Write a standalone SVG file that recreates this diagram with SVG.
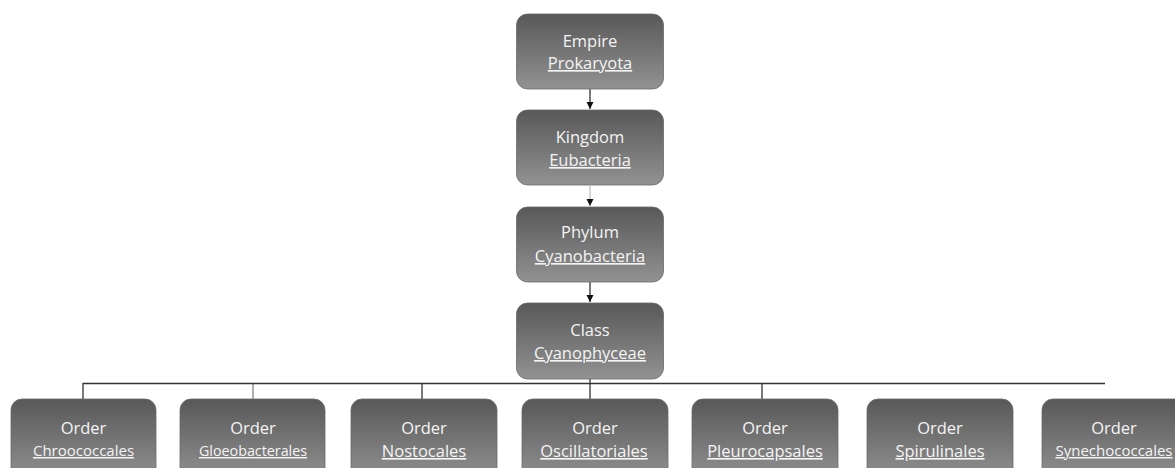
<svg xmlns="http://www.w3.org/2000/svg" width="1175" height="468" viewBox="0 0 1175 468">
<style>
.box{fill:url(#g);stroke:#6a6a6a;stroke-width:0.8}
.t{font-family:"Open Sans","Liberation Sans",sans-serif;font-size:16.5px;fill:#f4f4f4;text-anchor:middle}
.u{text-decoration:underline}
.c{stroke:#333;stroke-width:1.3;fill:none}
</style>
<defs>
<linearGradient id="g" x1="0" y1="0" x2="0" y2="1">
<stop offset="0" stop-color="#585858"/>
<stop offset="1" stop-color="#929292"/>
</linearGradient>
<marker id="a" markerWidth="8" markerHeight="8" refX="7" refY="4" orient="auto" markerUnits="userSpaceOnUse">
<path d="M0,0.5 L7,4 L0,7.5 Z" fill="#111"/>
</marker>
</defs>
<rect width="1175" height="468" fill="#fff"/>
<g id="connectors">
<line class="c" x1="590" y1="89" x2="590" y2="109" marker-end="url(#a)"/>
<line class="c" x1="590" y1="186" x2="590" y2="206" marker-end="url(#a)" stroke-opacity="0.3"/>
<line class="c" x1="590" y1="282" x2="590" y2="302" marker-end="url(#a)"/>
<line class="c" x1="590" y1="379" x2="590" y2="399"/>
<line class="c" x1="83" y1="383.5" x2="1105" y2="383.5"/>
<line class="c" x1="83" y1="383" x2="83" y2="399"/>
<line class="c" x1="253" y1="383" x2="253" y2="399" stroke-opacity="0.6"/>
<line class="c" x1="422" y1="383" x2="422" y2="399"/>
<line class="c" x1="762" y1="383" x2="762" y2="399"/>
</g>
<g id="empire"><rect class="box" x="516.5" y="14" width="147" height="75" rx="11"/>
<text class="t" x="590" y="47">Empire</text><text class="t u" x="590" y="69">Prokaryota</text></g>
<g id="kingdom"><rect class="box" x="516.5" y="110" width="147" height="75" rx="11"/>
<text class="t" x="590" y="143">Kingdom</text><text class="t u" x="590" y="166">Eubacteria</text></g>
<g id="phylum"><rect class="box" x="516.5" y="207" width="147" height="75" rx="11"/>
<text class="t" x="590" y="238">Phylum</text><text class="t u" x="590" y="262">Cyanobacteria</text></g>
<g id="class"><rect class="box" x="516.5" y="303" width="147" height="76" rx="11"/>
<text class="t" x="590" y="336">Class</text><text class="t u" x="590" y="359">Cyanophyceae</text></g>
<g id="chroococcales"><rect class="box" x="11" y="399" width="145" height="82" rx="11"/>
<text class="t" x="83.5" y="434">Order</text><text class="t u" x="83.5" y="456" style="font-size:15px">Chroococcales</text></g>
<g id="gloeobacterales"><rect class="box" x="180" y="399" width="145" height="82" rx="11"/>
<text class="t" x="253" y="434">Order</text><text class="t u" x="253" y="456" style="font-size:14.3px">Gloeobacterales</text></g>
<g id="nostocales"><rect class="box" x="351" y="399" width="146" height="82" rx="11"/>
<text class="t" x="424" y="434">Order</text><text class="t u" x="424" y="457">Nostocales</text></g>
<g id="oscillatoriales"><rect class="box" x="522" y="399" width="146" height="82" rx="11"/>
<text class="t" x="595" y="434">Order</text><text class="t u" x="594" y="457">Oscillatoriales</text></g>
<g id="pleurocapsales"><rect class="box" x="692" y="399" width="146" height="82" rx="11"/>
<text class="t" x="765" y="434">Order</text><text class="t u" x="765" y="457">Pleurocapsales</text></g>
<g id="spirulinales"><rect class="box" x="867" y="399" width="146" height="82" rx="11"/>
<text class="t" x="940" y="434">Order</text><text class="t u" x="940" y="457">Spirulinales</text></g>
<g id="synechococcales"><rect class="box" x="1042" y="399" width="146" height="82" rx="11"/>
<text class="t" x="1114" y="434">Order</text><text class="t u" x="1114" y="456" style="font-size:15px">Synechococcales</text></g>
</svg>
